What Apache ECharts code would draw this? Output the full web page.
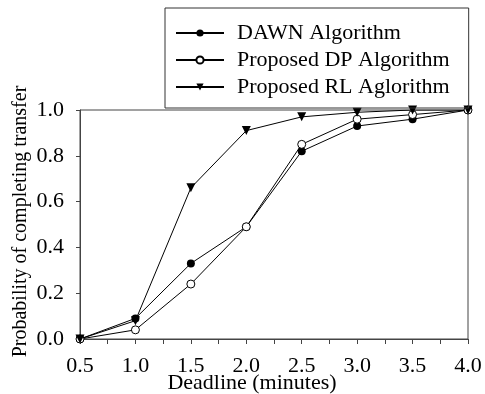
<!DOCTYPE html>
<html>
<head>
<meta charset="utf-8">
<script src="https://cdn.jsdelivr.net/npm/echarts@6/dist/echarts.min.js"></script>
<style>
  html, body { margin: 0; padding: 0; background: #fff; }
</style>
</head>
<body>
<div id="main" style="width: 485px;height:394px;"></div>
<script>
// deadlines (minutes)
var deadlines = [0.5, 1.0, 1.5, 2.0, 2.5, 3.0, 3.5, 4.0];
// probability of completing transfer
var dawn = [0, 0.09, 0.33, 0.49, 0.82, 0.93, 0.96, 1.0];
var dp   = [0, 0.04, 0.24, 0.49, 0.85, 0.96, 0.98, 1.0];
var rl   = [0, 0.08, 0.66, 0.91, 0.97, 0.99, 1.0, 1.0];
var names = ['DAWN Algorithm', 'Proposed DP Algorithm', 'Proposed RL Aglorithm'];

function pairs(ys) {
    return deadlines.map(function (x, i) { return [x, ys[i]]; });
}

var font = 'Liberation Serif, Times New Roman, serif';
var axisColor = '#444';

var myChart = echarts.init(document.getElementById('main'));
var option = {
    animation: false,
    textStyle: { fontFamily: font, color: '#000' },
    grid: {
        left: 80, right: 17, top: 110, bottom: 55,
        outerBoundsMode: 'none',
        show: true, borderColor: axisColor, borderWidth: 1
    },
    legend: {
        left: 165, top: 8,
        orient: 'vertical',
        data: names,
        itemWidth: 48, itemHeight: 9, itemGap: 5,
        padding: [14, 19, 10, 10],
        borderColor: '#333', borderWidth: 1,
        textStyle: { fontFamily: font, fontSize: 22, color: '#000', padding: [0, 0, 0, 8] }
    },
    xAxis: {
        type: 'value',
        min: 0.5, max: 4.0, interval: 0.5,
        name: 'Deadline (minutes)',
        nameLocation: 'middle',
        nameGap: 33,
        nameMoveOverlap: false,
        nameTextStyle: { fontFamily: font, fontSize: 22, color: '#000', padding: [0, 44, 0, 0] },
        axisLine: { lineStyle: { color: axisColor, width: 1 } },
        axisTick: { show: true, length: 5, lineStyle: { color: axisColor } },
        minorTick: { show: true, splitNumber: 2, length: 5, lineStyle: { color: axisColor } },
        splitLine: { show: false },
        axisLabel: {
            fontFamily: font, fontSize: 22, color: '#000', margin: 16,
            formatter: function (v) { return v.toFixed(1); }
        }
    },
    yAxis: {
        type: 'value',
        min: 0, max: 1.0, interval: 0.2,
        name: 'Probability of completing transfer',
        nameLocation: 'middle',
        nameGap: 49,
        nameMoveOverlap: false,
        nameTextStyle: { fontFamily: font, fontSize: 20, color: '#000', padding: [0, 0, 0, 6] },
        axisLine: { show: true, lineStyle: { color: axisColor, width: 1 } },
        axisTick: { show: true, length: 4, lineStyle: { color: axisColor } },
        splitLine: { show: false },
        axisLabel: {
            fontFamily: font, fontSize: 22, color: '#000', margin: 16,
            formatter: function (v) { return v.toFixed(1); }
        }
    },
    series: [
        {
            name: names[0], type: 'line', data: pairs(dawn),
            symbol: 'circle', symbolSize: 8,
            itemStyle: { color: '#000' },
            lineStyle: { color: '#000', width: 1 }
        },
        {
            name: names[1], type: 'line', data: pairs(dp),
            symbol: 'circle', symbolSize: 8,
            itemStyle: { color: '#fff', borderColor: '#000', borderWidth: 1 },
            lineStyle: { color: '#000', width: 1 }
        },
        {
            name: names[2], type: 'line', data: pairs(rl),
            symbol: 'triangle', symbolRotate: 180, symbolSize: 9,
            itemStyle: { color: '#000' },
            lineStyle: { color: '#000', width: 1 }
        }
    ]
};
myChart.setOption(option);
</script>
</body>
</html>
